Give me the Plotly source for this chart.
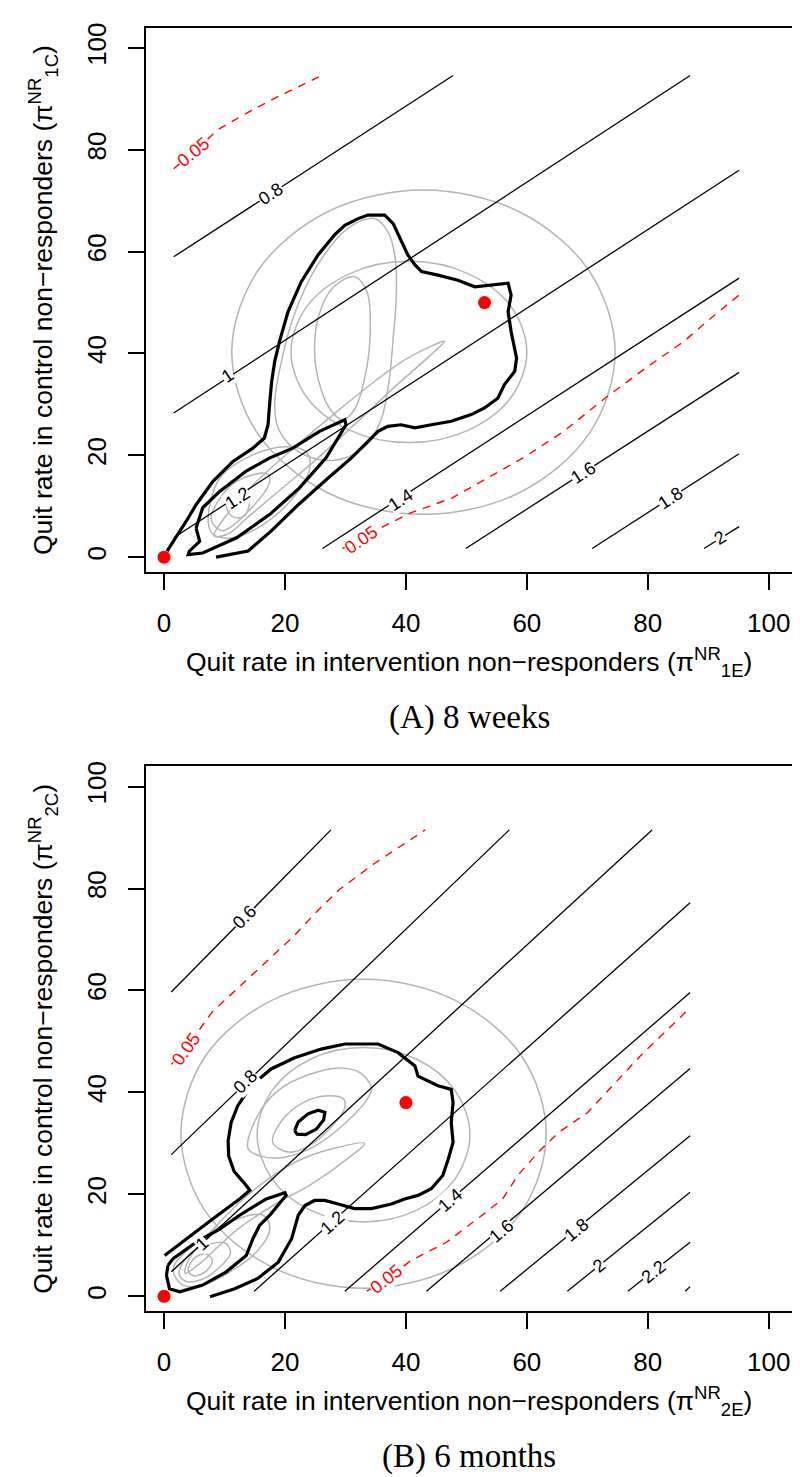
import math
import plotly.graph_objects as go

# ------------------------------------------------------------------ data
# ---- Panel A (8 weeks): straight ratio contours
A_levels  = ["0.8", "1", "1.2", "1.4", "1.6", "1.8", "2"]
A_start_x = [1.6, 1.6, 1.6, 26.2, 49.9, 70.8, 89.3]
A_start_y = [59.0, 28.3, 3.8, 1.7, 1.7, 1.7, 1.7]
A_end_x   = [47.8, 87.0, 95.1, 95.1, 95.1, 95.1, 95.1]
A_end_y   = [94.6, 94.6, 76.0, 54.8, 36.3, 20.3, 6.0]
A_label_x = [17.6, 10.5, 12.2, 39.1, 69.3, 83.8, 91.9]
A_label_y = [71.4, 35.5, 11.6, 11.3, 16.5, 11.6, 3.8]

# ---- Panel A: p = 0.05 contours (red dashed)
A_sig1_x = [1.6, 4.9, 8.8, 13.8, 18.9, 24.0, 26.1]
A_sig1_y = [76.3, 79.5, 83.9, 87.3, 90.5, 93.5, 94.6]
A_sig2_x = [29.5, 32.4, 35.4, 40.8, 47.6, 53.5, 59.4, 66.1, 72.9, 79.6, 86.0, 90.0, 94.4, 95.1]
A_sig2_y = [1.7, 3.1, 5.5, 8.7, 11.6, 15.5, 19.5, 24.7, 31.2, 37.1, 42.4, 46.5, 50.8, 51.5]
A_sig_label_x = [4.9, 32.6]
A_sig_label_y = [79.5, 3.3]

# ---- Panel A: gray density contours (prior)
A_g1_x = [42.9, 58.75, 70.35, 74.6, 70.35, 58.75, 42.9, 27.05, 15.45, 11.2, 15.45, 27.05]
A_g1_y = [72.1, 67.85, 56.15, 40.25, 24.35, 12.65, 8.4, 12.65, 24.35, 40.25, 56.15, 67.85]
A_g2_x = [40.5, 50.25, 57.4, 60.0, 57.4, 50.25, 40.5, 30.75, 23.6, 21.0, 23.6, 30.75]
A_g2_y = [58.1, 55.7, 49.2, 40.3, 31.4, 24.9, 22.5, 24.9, 31.4, 40.3, 49.2, 55.7]
A_g3_x = [34.8, 37.2, 38.3, 38.4, 37.9, 37.2, 35.9, 33.0, 28.0, 22.5, 19.0, 18.3, 19.3, 21.5, 25.4, 30.3]
A_g3_y = [66.5, 63.5, 58.0, 51.0, 43.0, 34.5, 27.0, 21.5, 19.0, 20.5, 25.0, 30.0, 37.8, 47.5, 57.4, 64.5]
A_g4_x = [31.5, 33.6, 34.1, 33.3, 31.5, 29.5, 27.5, 25.6, 24.9, 25.6, 28.0]
A_g4_y = [55.1, 52.0, 44.3, 35.8, 29.0, 27.0, 29.0, 34.5, 40.5, 47.5, 53.0]
A_g5_x = [46.4, 40.3, 34.8, 28.0, 21.0, 15.0, 10.5, 8.3, 10.5, 14.0, 19.0, 25.0, 31.0, 38.2, 45.3]
A_g5_y = [42.4, 39.1, 34.5, 28.0, 21.0, 14.5, 8.5, 4.2, 4.5, 8.0, 13.0, 19.0, 25.5, 33.5, 41.0]
A_g6_x = [7.3, 9.2, 14.7, 20.2, 23.5, 24.1, 21.3, 16.4, 11.4, 8.1]
A_g6_y = [7.1, 15.5, 20.1, 21.7, 20.7, 17.5, 11.6, 6.4, 3.8, 4.5]
A_g7_x = [10.3, 11.0, 12.2, 13.6, 14.1, 13.4, 12.2, 10.8]
A_g7_y = [10.6, 13.0, 13.5, 12.5, 10.6, 8.2, 7.7, 8.5]
A_g8_x = [7.8, 11.4, 17.0, 17.5, 14.5, 9.6]
A_g8_y = [7.5, 14.4, 16.4, 15.0, 9.7, 5.2]

# ---- Panel A: black posterior contours
A_b1_x = [0.5, 2.3, 3.7, 5.3, 8.1, 11.4, 14.7, 16.6, 17.2, 17.5, 17.8, 18.3, 19.1, 20.5, 22.7,
          25.5, 28.2, 29.9, 32.1, 33.7, 36.5, 37.9, 39.2, 40.3, 41.5, 42.6, 45.3, 48.6, 51.4,
          54.1, 56.9, 57.4, 56.9, 57.4, 58.3, 58.0, 56.3, 55.2, 53.0, 50.8, 47.5, 44.2, 41.5,
          39.2, 37.0, 35.4, 33.7, 31.0, 27.1, 22.2, 17.7, 13.9, 8.6]
A_b1_y = [1.2, 4.4, 7.1, 10.3, 14.9, 18.8, 21.4, 23.4, 26.0, 30.6, 34.5, 38.4, 42.4, 48.2, 54.1,
          59.4, 63.3, 65.2, 66.5, 67.2, 67.2, 65.5, 62.0, 59.4, 57.4, 56.1, 55.4, 54.4, 53.1,
          53.5, 53.8, 51.5, 48.2, 44.3, 39.1, 36.5, 33.9, 31.2, 29.3, 28.0, 26.7, 26.0, 25.4,
          26.0, 25.7, 24.7, 22.7, 19.5, 15.5, 10.3, 5.1, 1.2, 0.0]
A_b2_x = [5.3, 5.9, 4.2, 4.0, 6.4, 12.0, 17.5, 22.4, 26.8, 30.1, 29.9, 25.7, 21.3, 17.5, 13.6, 9.2, 6.4]
A_b2_y = [5.7, 3.1, 1.2, 0.5, 0.8, 3.8, 8.4, 13.6, 19.5, 26.0, 27.0, 24.7, 21.4, 19.5, 16.9, 12.9, 9.7]

A_points_x = [0, 53]
A_points_y = [0, 50]

# ---- Panel B (6 months): straight ratio contours
B_levels  = ["0.6", "0.8", "1", "1.2", "1.4", "1.6", "1.8", "2", "2.2", ""]
B_start_x = [1.2, 1.2, 1.2, 14.9, 29.9, 43.4, 55.6, 66.7, 76.7, 86.2]
B_start_y = [59.7, 27.8, 4.8, 1.0, 1.0, 1.0, 1.0, 1.0, 1.0, 1.0]
B_end_x   = [27.6, 57.1, 80.7, 87.0, 87.0, 87.0, 87.0, 87.0, 87.0, 87.0]
B_end_y   = [91.5, 91.5, 91.5, 77.2, 59.6, 44.7, 31.5, 20.4, 10.6, 1.9]
B_label_x = [13.3, 13.4, 6.2, 27.8, 47.4, 55.8, 68.2, 71.9, 80.9, None]
B_label_y = [74.4, 42.0, 10.3, 14.4, 18.8, 12.8, 13.0, 6.0, 4.8, None]

# ---- Panel B: p = 0.05 contours
B_sig1_x = [1.2, 3.3, 7.9, 15.5, 21.4, 25.6, 29.0, 34.9, 43.2]
B_sig1_y = [45.5, 48.1, 55.7, 64.1, 70.6, 75.9, 79.8, 85.0, 91.5]
B_sig2_x = [33.5, 36.6, 40.8, 46.7, 52.6, 56.0, 58.5, 61.9, 65.3, 70.0, 78.8, 87.0]
B_sig2_y = [1.0, 3.1, 7.0, 10.6, 15.9, 19.1, 23.7, 28.3, 32.2, 36.0, 47.2, 56.6]
B_sig_label_x = [3.6, 36.8]
B_sig_label_y = [48.6, 3.3]

# ---- Panel B: gray contours
B_g1_x = [33.0, 48.1, 59.2, 63.2, 59.2, 48.1, 33.0, 17.9, 6.8, 2.8, 6.8, 17.9]
B_g1_y = [62.2, 58.1, 47.05, 31.9, 16.75, 5.7, 1.6, 5.7, 16.75, 31.9, 47.05, 58.1]
B_g2_x = [33.0, 41.8, 48.2, 50.6, 48.2, 41.8, 33.0, 24.2, 17.8, 15.4, 17.8, 24.2]
B_g2_y = [48.8, 46.5, 40.25, 31.7, 23.15, 16.9, 14.6, 16.9, 23.15, 31.7, 40.25, 46.5]
B_g3_x = [13.9, 16.0, 20.0, 25.0, 30.0, 33.5, 34.3, 32.5, 29.0, 24.0, 19.0, 15.5]
B_g3_y = [29.0, 27.5, 27.3, 29.5, 34.0, 38.5, 40.8, 43.8, 44.8, 43.5, 40.5, 35.5]
B_g4_x = [18.0, 20.5, 24.0, 27.5, 29.9, 29.6, 26.6, 23.0, 19.5]
B_g4_y = [30.2, 28.3, 29.5, 33.0, 37.0, 38.8, 39.3, 38.0, 34.5]
B_g5_x = [33.2, 28.0, 22.0, 15.0, 8.0, 4.0, 3.5, 6.0, 12.0, 19.0, 24.0, 31.0]
B_g5_y = [30.0, 29.0, 26.5, 21.0, 13.0, 7.0, 4.5, 6.5, 13.0, 18.5, 21.7, 27.6]
B_g6_x = [3.1, 1.5, 4.8, 10.9, 16.4, 17.5, 15.3, 10.9, 6.4]
B_g6_y = [2.2, 5.4, 10.0, 14.6, 15.9, 13.2, 8.7, 4.8, 2.2]
B_g7_x = [2.5, 4.0, 7.0, 10.0, 11.0, 9.0, 6.0, 3.5]
B_g7_y = [4.5, 8.0, 10.0, 10.5, 8.5, 5.5, 3.2, 3.0]
B_g8_x = [4.0, 5.0, 7.0, 8.0, 7.0, 5.0]
B_g8_y = [5.0, 7.5, 8.3, 7.0, 5.0, 4.0]

# ---- Panel B: black posterior contours
B_b1_x = [0.1, 3.7, 8.1, 12.5, 14.2, 13.2, 11.6, 10.7, 10.6, 11.1, 12.2, 14.4, 17.7, 21.6, 26.0,
          29.9, 35.4, 38.7, 41.5, 42.0, 43.7, 45.3, 47.5, 47.8, 47.5, 47.8, 47.0, 46.1, 44.2,
          42.0, 39.8, 37.6, 34.3, 31.5, 28.8, 26.6, 24.9, 23.3, 22.2, 21.1, 18.9, 15.5, 11.7, 7.6]
B_b1_y = [8.0, 11.3, 15.2, 19.1, 20.8, 22.3, 24.5, 27.5, 30.5, 34.1, 37.4, 41.3, 44.6, 46.8, 48.5,
          49.5, 49.5, 47.8, 45.2, 43.2, 42.3, 41.3, 40.6, 38.0, 34.1, 30.2, 26.9, 23.7, 21.1,
          19.8, 19.1, 18.1, 17.2, 17.2, 18.1, 18.8, 18.8, 17.8, 15.9, 11.3, 6.7, 3.5, 1.5, -0.1]
B_b2_x = [0.66, 0.4, 0.9, 2.6, 6.4, 10.3, 13.6, 14.7, 15.8, 17.5, 20.2, 20.0, 16.9, 12.5, 9.2, 5.3, 1.5]
B_b2_y = [6.1, 4.1, 1.5, 0.9, 2.2, 4.8, 8.0, 11.3, 13.9, 15.9, 19.8, 20.3, 19.1, 15.9, 13.2, 10.6, 7.4]
B_b3_x = [21.6, 22.2, 23.8, 25.5, 26.6, 26.4, 25.2, 23.4, 22.0]
B_b3_y = [32.5, 34.2, 35.8, 36.5, 36.1, 34.6, 32.8, 31.7, 31.8]

B_points_x = [0, 40]
B_points_y = [0, 38]

tick_vals = [0, 20, 40, 60, 80, 100]
x_title_A = "Quit rate in intervention non\u2212responders (\u03c0<sup>NR</sup><sub>1E</sub>)"
y_title_A = "Quit rate in control non\u2212responders (\u03c0<sup>NR</sup><sub>1C</sub>)"
x_title_B = "Quit rate in intervention non\u2212responders (\u03c0<sup>NR</sup><sub>2E</sub>)"
y_title_B = "Quit rate in control non\u2212responders (\u03c0<sup>NR</sup><sub>2C</sub>)"
caption_A = "(A) 8 weeks"
caption_B = "(B) 6 months"

# ------------------------------------------------------------------ layout geometry
W, H = 800, 1477
PX_L, PX_R = 137.7, 784.3
PA_T, PA_B = 15.0, 561.0
PB_T, PB_B = 756.0, 1302.7
XR = [-3.03, 103.9]
YR = [-2.94, 103.95]
SANS = "Liberation Sans, Arial, sans-serif"
SERIF = "Liberation Serif, Times New Roman, serif"
GRAY = "#b4b4b4"

px_per_x = (PX_R - PX_L) / (XR[1] - XR[0])
px_per_y = (PA_B - PA_T) / (YR[1] - YR[0])

fig = go.Figure()


def closed(xs, ys):
    return list(xs) + [xs[0]], list(ys) + [ys[0]]


def add_path(xs, ys, ax, color, width, dash="solid", shape="linear", close=False):
    if close:
        xs, ys = closed(xs, ys)
    fig.add_trace(go.Scatter(x=xs, y=ys, mode="lines", xaxis=ax[0], yaxis=ax[1],
                             line=dict(color=color, width=width, dash=dash, shape=shape,
                                       smoothing=1.0 if shape == "spline" else None),
                             hoverinfo="skip", showlegend=False))


def angle_of(dx, dy):
    return -math.degrees(math.atan2(dy * px_per_y, dx * px_per_x))


def add_label(text, x, y, ang, ax, color):
    fig.add_annotation(x=x, y=y, xref=ax[0], yref=ax[1], text=text, showarrow=False,
                       textangle=ang, font=dict(family=SANS, size=18, color=color),
                       bgcolor="white", borderpad=0)


def local_angle(xs, ys, lx):
    for i in range(len(xs) - 1):
        if xs[i] <= lx <= xs[i + 1]:
            return angle_of(xs[i + 1] - xs[i], ys[i + 1] - ys[i])
    return angle_of(xs[1] - xs[0], ys[1] - ys[0])


def build_panel(ax, grays, blacks_open, blacks_closed, levels, sx, sy, ex, ey, lx, ly,
                sigs, sig_lx, sig_ly, ptx, pty):
    for gx, gy in grays:
        add_path(gx, gy, ax, GRAY, 1.5, shape="spline", close=True)
    for bx, by in blacks_open:
        add_path(bx, by, ax, "black", 3.2)
    for bx, by in blacks_closed:
        add_path(bx, by, ax, "black", 3.2, close=True)
    for i in range(len(levels)):
        add_path([sx[i], ex[i]], [sy[i], ey[i]], ax, "black", 1.3)
    for (qx, qy) in sigs:
        add_path(qx, qy, ax, "red", 1.4, dash="8px,7px")
    for i in range(len(levels)):
        if levels[i] and lx[i] is not None:
            add_label(levels[i], lx[i], ly[i], angle_of(ex[i] - sx[i], ey[i] - sy[i]), ax, "black")
    for k, (qx, qy) in enumerate(sigs):
        add_label("0.05", sig_lx[k], sig_ly[k], local_angle(qx, qy, sig_lx[k]), ax, "red")
    fig.add_trace(go.Scatter(x=ptx, y=pty, mode="markers", xaxis=ax[0], yaxis=ax[1],
                             marker=dict(color="red", size=13, line=dict(width=0)),
                             hoverinfo="skip", showlegend=False))


build_panel(("x", "y"),
            [(A_g1_x, A_g1_y), (A_g2_x, A_g2_y), (A_g3_x, A_g3_y), (A_g4_x, A_g4_y),
             (A_g5_x, A_g5_y), (A_g6_x, A_g6_y), (A_g7_x, A_g7_y), (A_g8_x, A_g8_y)],
            [(A_b1_x, A_b1_y)], [(A_b2_x, A_b2_y)],
            A_levels, A_start_x, A_start_y, A_end_x, A_end_y, A_label_x, A_label_y,
            [(A_sig1_x, A_sig1_y), (A_sig2_x, A_sig2_y)], A_sig_label_x, A_sig_label_y,
            A_points_x, A_points_y)

build_panel(("x2", "y2"),
            [(B_g1_x, B_g1_y), (B_g2_x, B_g2_y), (B_g3_x, B_g3_y), (B_g4_x, B_g4_y),
             (B_g5_x, B_g5_y), (B_g6_x, B_g6_y), (B_g7_x, B_g7_y), (B_g8_x, B_g8_y)],
            [(B_b1_x, B_b1_y)], [(B_b2_x, B_b2_y), (B_b3_x, B_b3_y)],
            B_levels, B_start_x, B_start_y, B_end_x, B_end_y, B_label_x, B_label_y,
            [(B_sig1_x, B_sig1_y), (B_sig2_x, B_sig2_y)], B_sig_label_x, B_sig_label_y,
            B_points_x, B_points_y)

axis_common = dict(range=XR, showgrid=False, zeroline=False, showline=True, mirror=True,
                   linecolor="black", linewidth=2, ticks="outside", ticklen=16, tickwidth=2,
                   tickcolor="black", tickmode="array", tickvals=tick_vals,
                   tickfont=dict(family=SANS, size=26, color="black"), ticklabelstandoff=11)

xd = [PX_L / W, PX_R / W]
fig.update_layout(
    width=W, height=H, margin=dict(l=0, r=0, t=0, b=0),
    paper_bgcolor="white", plot_bgcolor="white",
    xaxis=dict(axis_common, domain=xd, anchor="y"),
    yaxis=dict(axis_common, range=YR, domain=[1 - PA_B / H, 1 - PA_T / H], anchor="x",
               tickangle=-90),
    xaxis2=dict(axis_common, domain=xd, anchor="y2"),
    yaxis2=dict(axis_common, range=YR, domain=[1 - PB_B / H, 1 - PB_T / H], anchor="x2",
                tickangle=-90),
)

cx = (PX_L + PX_R) / 2 / W
for (top, bot, xt, yt, cap) in [(PA_T, PA_B, x_title_A, y_title_A, caption_A),
                                (PB_T, PB_B, x_title_B, y_title_B, caption_B)]:
    fig.add_annotation(x=cx, y=1 - (bot + 90) / H, xref="paper", yref="paper", text=xt,
                       showarrow=False, font=dict(family=SANS, size=26.5, color="black"),
                       xanchor="center", yanchor="middle")
    fig.add_annotation(x=35 / W, y=1 - (top + bot) / 2 / H, xref="paper", yref="paper", text=yt,
                       showarrow=False, textangle=-90,
                       font=dict(family=SANS, size=26.5, color="black"),
                       xanchor="center", yanchor="middle")
    fig.add_annotation(x=cx, y=1 - (bot + 146) / H, xref="paper", yref="paper", text=cap,
                       showarrow=False, font=dict(family=SERIF, size=33, color="black"),
                       xanchor="center", yanchor="middle")

fig.write_html("out.html")
